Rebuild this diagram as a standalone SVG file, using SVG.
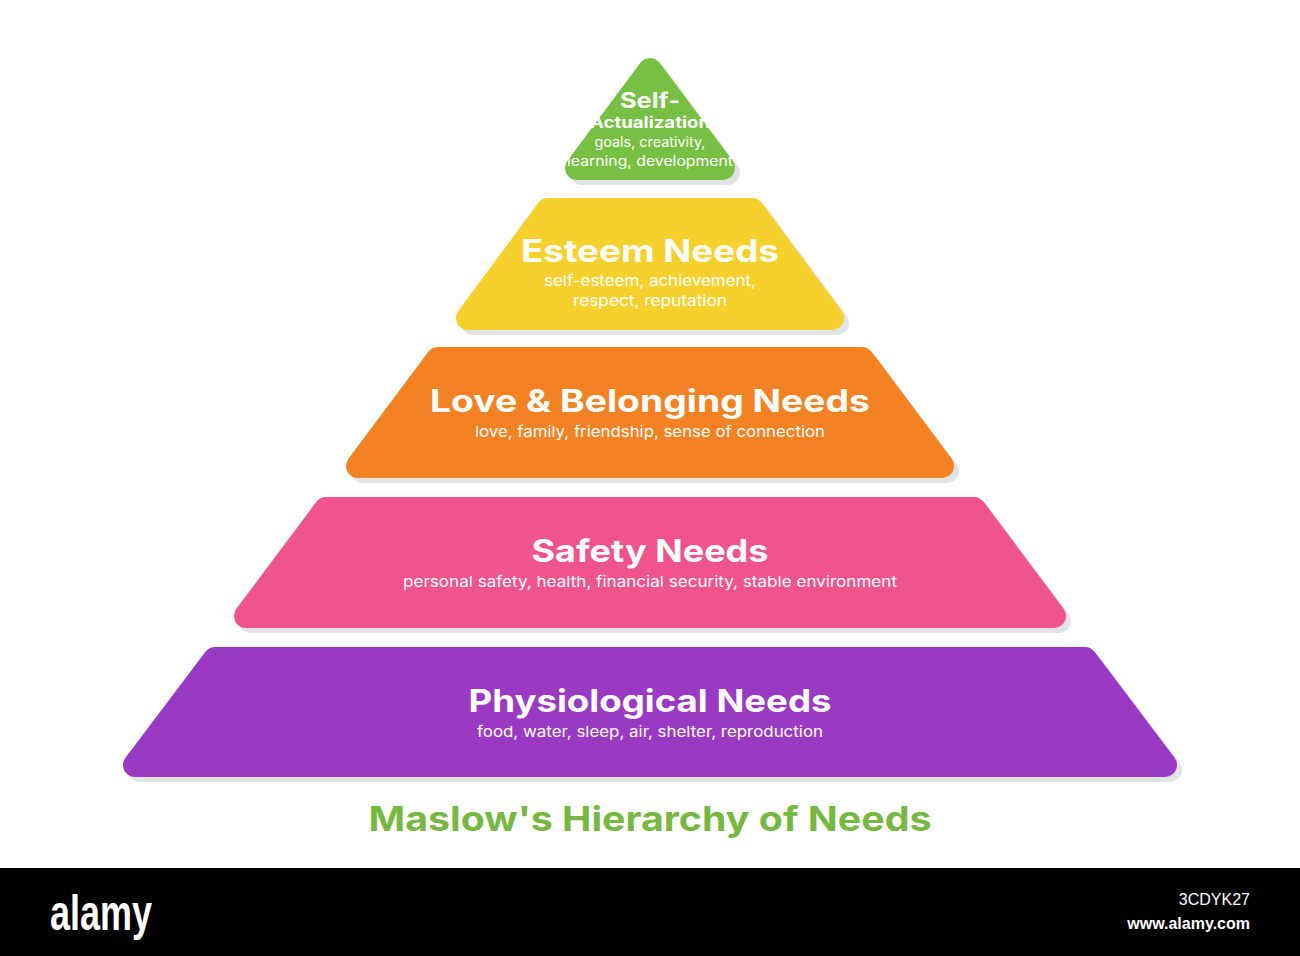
<svg xmlns="http://www.w3.org/2000/svg" width="1300" height="956" viewBox="0 0 1300 956">
<style>
.b{stroke-width:24;stroke-linejoin:round}
.sh{fill:#e1e4e7;stroke:#e1e4e7}
.h{font-family:Inter,"Noto Sans",sans-serif;font-weight:700;fill:#fff;text-anchor:middle}
.s{font-family:Inter,"Noto Sans",sans-serif;font-weight:400;fill:#fff;text-anchor:middle;font-size:15px}
</style>
<rect width="1300" height="956" fill="#fff"/>
<g id="self-actualization">
<polygon class="b sh" transform="translate(5,5)" points="650,70 723,168 577,168"/>
<polygon class="b" fill="#77c043" stroke="#77c043" points="650,70 723,168 577,168"/>
<text class="h" x="650" y="108" font-size="21" textLength="60" lengthAdjust="spacingAndGlyphs">Self-</text>
<text class="h" x="650" y="128" font-size="16" textLength="120" lengthAdjust="spacingAndGlyphs">Actualization</text>
<text class="s" x="650" y="147" style="font-size:14px" textLength="111" lengthAdjust="spacingAndGlyphs">goals, creativity,</text>
<text class="s" x="650" y="166" style="font-size:14px" textLength="166" lengthAdjust="spacingAndGlyphs">learning, development</text>
</g>
<g id="esteem">
<polygon class="b sh" transform="translate(5,5)" points="548,210 752,210 832,318 468,318"/>
<polygon class="b" fill="#f6d12e" stroke="#f6d12e" points="548,210 752,210 832,318 468,318"/>
<text class="h" x="650" y="262" font-size="31" textLength="258" lengthAdjust="spacingAndGlyphs">Esteem Needs</text>
<text class="s" x="650" y="286" textLength="212" lengthAdjust="spacingAndGlyphs">self-esteem, achievement,</text>
<text class="s" x="650" y="306" textLength="154" lengthAdjust="spacingAndGlyphs">respect, reputation</text>
</g>
<g id="love">
<polygon class="b sh" transform="translate(5,5)" points="438,359 862,359 942,466 358,466"/>
<polygon class="b" fill="#f28223" stroke="#f28223" points="438,359 862,359 942,466 358,466"/>
<text class="h" x="650" y="412" font-size="31" textLength="440" lengthAdjust="spacingAndGlyphs">Love &amp; Belonging Needs</text>
<text class="s" x="650" y="437" textLength="350" lengthAdjust="spacingAndGlyphs">love, family, friendship, sense of connection</text>
</g>
<g id="safety">
<polygon class="b sh" transform="translate(5,5)" points="326,509 974,509 1054,616 246,616"/>
<polygon class="b" fill="#f0548c" stroke="#f0548c" points="326,509 974,509 1054,616 246,616"/>
<text class="h" x="650" y="562" font-size="31" textLength="237" lengthAdjust="spacingAndGlyphs">Safety Needs</text>
<text class="s" x="650" y="587" textLength="494" lengthAdjust="spacingAndGlyphs">personal safety, health, financial security, stable environment</text>
</g>
<g id="physiological">
<polygon class="b sh" transform="translate(5,5)" points="215,659 1085,659 1165,765 135,765"/>
<polygon class="b" fill="#9a3ac2" stroke="#9a3ac2" points="215,659 1085,659 1165,765 135,765"/>
<text class="h" x="650" y="712" font-size="31" textLength="363" lengthAdjust="spacingAndGlyphs">Physiological Needs</text>
<text class="s" x="650" y="737" textLength="346" lengthAdjust="spacingAndGlyphs">food, water, sleep, air, shelter, reproduction</text>
</g>
<g id="connectors"/>
<text x="650" y="831" font-family="Inter,'Noto Sans',sans-serif" font-weight="700" font-size="34" fill="#77b843" text-anchor="middle" textLength="563" lengthAdjust="spacingAndGlyphs">Maslow's Hierarchy of Needs</text>
<rect x="0" y="868" width="1300" height="88" fill="#000"/>
<text x="50" y="930" font-family="'Liberation Sans',sans-serif" font-weight="700" font-size="50" fill="#fff" textLength="102" lengthAdjust="spacingAndGlyphs">alamy</text>
<text x="1250" y="905" font-family="'Liberation Sans',sans-serif" font-size="16" fill="#fff" text-anchor="end">3CDYK27</text>
<text x="1250" y="929" font-family="'Liberation Sans',sans-serif" font-weight="700" font-size="16" fill="#fff" text-anchor="end">www.alamy.com</text>
</svg>
